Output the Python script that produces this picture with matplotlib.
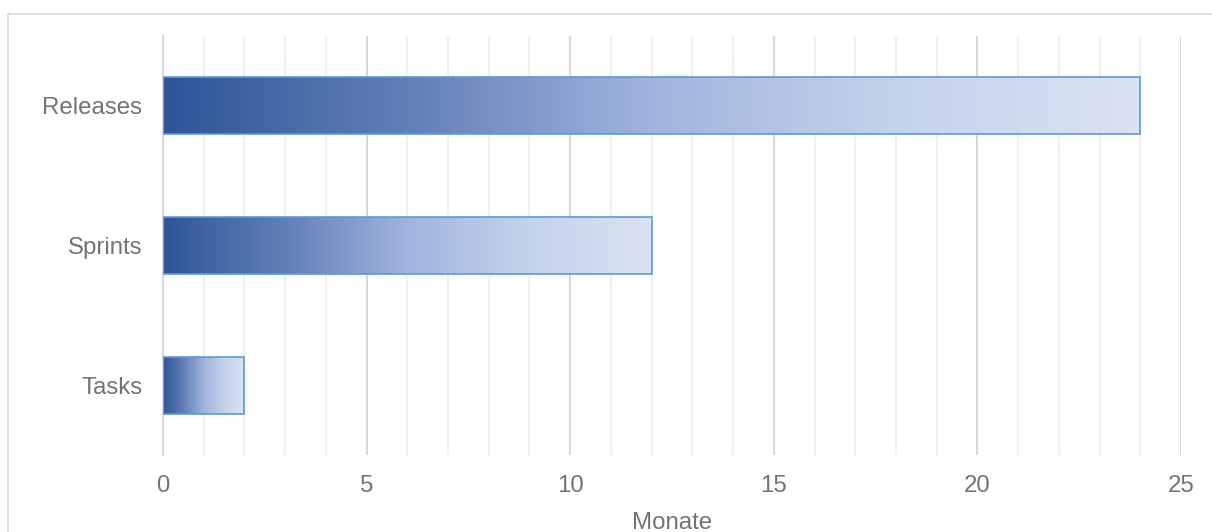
import matplotlib
matplotlib.use("Agg")
import matplotlib.pyplot as plt
import numpy as np
from matplotlib.colors import LinearSegmentedColormap
from matplotlib.lines import Line2D
from matplotlib.ticker import MultipleLocator

# Data
categories = ["Tasks", "Sprints", "Releases"]
months = [2, 12, 24]
x_ticks = [0, 5, 10, 15, 20, 25]
x_label = "Monate"

plt.rcParams["font.family"] = ["Liberation Sans", "DejaVu Sans"]

W, H = 1212, 532
fig = plt.figure(figsize=(W / 100, H / 100), dpi=100)
ax = fig.add_axes([163 / W, 1 - 455 / H, (1181 - 163) / W, (455 - 36) / H])

grad = LinearSegmentedColormap.from_list(
    "bar_grad",
    [(0.0, "#2F5597"), (0.25, "#6180B8"), (0.5, "#A1B4DD"),
     (0.75, "#C4D2EC"), (1.0, "#DAE3F3")],
)
gradient = np.linspace(0, 1, 256).reshape(1, -1)

bar_h = 0.41
bars = ax.barh(range(len(categories)), months, height=bar_h,
               facecolor="none", edgecolor="#5B9BD5", linewidth=1.2, zorder=3)
for i, (bar, val) in enumerate(zip(bars, months)):
    im = ax.imshow(gradient, cmap=grad, aspect="auto",
                   extent=[0, val, i - bar_h / 2, i + bar_h / 2],
                   interpolation="bilinear", zorder=2)
    im.set_clip_path(bar)

ax.set_xlim(0, 25)
ax.set_ylim(-0.5, len(categories) - 0.5)
ax.set_xticks(x_ticks)
ax.xaxis.set_minor_locator(MultipleLocator(1))
ax.set_yticks(range(len(categories)))
ax.set_yticklabels(categories)

ax.grid(which="minor", axis="x", color="#F0F0F0", linewidth=1.5, zorder=0)
ax.grid(which="major", axis="x", color="#D9D9D9", linewidth=1.5, zorder=0)
ax.grid(False, axis="y")
ax.set_axisbelow(True)

for s in ["top", "right", "bottom"]:
    ax.spines[s].set_visible(False)
ax.spines["left"].set_color("#D9D9D9")
ax.spines["left"].set_linewidth(1.5)

text_color = "#737373"
ax.tick_params(axis="both", which="both", length=0, labelsize=17.3,
               labelcolor=text_color)
ax.tick_params(axis="x", pad=14.5)
ax.tick_params(axis="y", pad=15)
ax.set_xlabel(x_label, fontsize=17.3, color=text_color, labelpad=10.5)

# Outer chart border (extends past the right and bottom edges)
fig.add_artist(Line2D([8 / W, 1.01], [1 - 14 / H, 1 - 14 / H],
                      transform=fig.transFigure, color="#D9D9D9", linewidth=1.2))
fig.add_artist(Line2D([8 / W, 8 / W], [1 - 14 / H, -0.01],
                      transform=fig.transFigure, color="#D9D9D9", linewidth=1.2))

fig.savefig("out.png", dpi=100, facecolor="white")
